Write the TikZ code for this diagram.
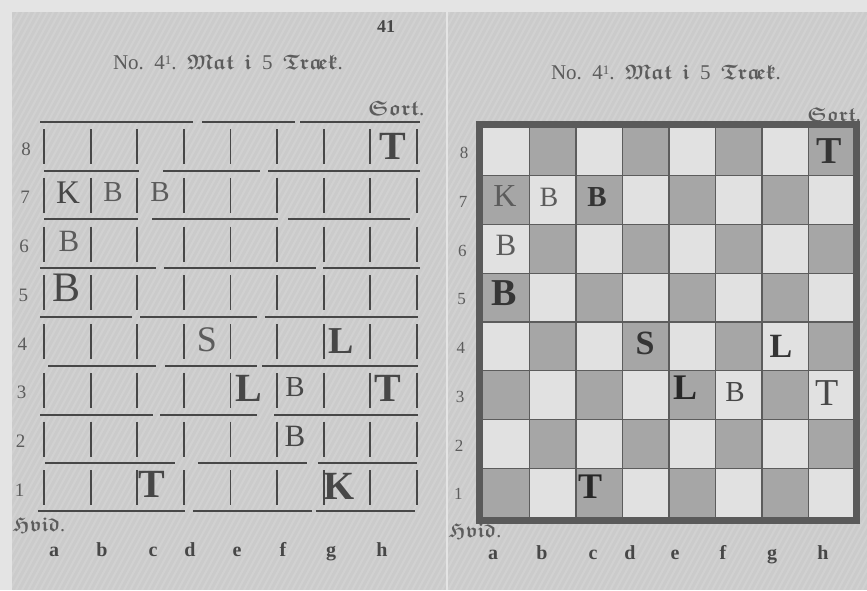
\documentclass[tikz,border=0pt]{standalone}
\usepackage{amssymb}
\usepackage{fontspec}
\setmainfont{Liberation Serif}
\definecolor{pagebg}{HTML}{CBCBCB}
\definecolor{outerbg}{HTML}{E4E4E4}
\definecolor{ink}{HTML}{474747}
\definecolor{softink}{HTML}{5C5C5C}
\definecolor{lightsq}{HTML}{E1E1E1}
\definecolor{darksq}{HTML}{A6A6A6}
\definecolor{framecol}{HTML}{5A5A5A}
\newcommand{\frk}[1]{{\boldmath$\mathfrak{#1}$}}
\newcommand{\fsz}[1]{\fontsize{#1}{#1}\selectfont}
\newcommand{\trak}{{\boldmath$\mathfrak{Tr}\mathfrak{a}\mkern-3mu\mathfrak{e}\mathfrak{k}$}}
\newcommand{\titletext}{No.\ \ 4\raisebox{0.5ex}{\fsz{13}1}.\ \ \frk{Mat}\ \ \frk{i}\ \ 5\ \ \trak.}
\begin{document}
\begin{tikzpicture}[x=1pt,y=-1pt,
  rulestyle/.style={draw=ink, line width=1.8pt},
  barstyle/.style={draw=ink, line width=1.8pt},
  gridstyle/.style={draw=softink, line width=1.4pt},
  piece/.style={text=ink, inner sep=0pt, font=\bfseries\fsz{30}},
  lpiece/.style={text=softink, inner sep=0pt, font=\fsz{26}},
  dpiece/.style={text=ink!75!black, inner sep=0pt, font=\bfseries\fsz{26}},
  ranklbl/.style={text=softink, inner sep=0pt, font=\fsz{19}},
  filelbl/.style={text=ink, inner sep=0pt, font=\bfseries\fsz{20}},
  titlelbl/.style={text=softink, inner sep=0pt, font=\fsz{21}}]
\useasboundingbox (0,0) rectangle (867,590);
\fill[outerbg] (0,0) rectangle (867,590);
\fill[pagebg] (12,12) rectangle (867,590);
% paper texture
\begin{scope}
\clip (12,12) rectangle (867,590);
\foreach \i in {0,6,...,1500} {
  \draw[white, opacity=0.12, line width=2pt] (\i-320,590) -- (\i,0);
}
\end{scope}
% gutter
\draw[outerbg, line width=2.2pt] (447,12) -- (447,590);

% ---------------- left page ----------------
\node[text=ink, inner sep=0pt, font=\bfseries\fsz{18}] (pagenum) at (386,27) {41};
\node[titlelbl] (ltitle) at (228,62) {\titletext};
\node[text=softink, inner sep=0pt, font=\fsz{21}] (lsort) at (396,108) {\frk{Sort}.};
\node[text=softink, inner sep=0pt, font=\fsz{20}] (lhvid) at (39,525) {\frk{Hvid}.};

% horizontal rules (broken type rules)
\foreach \yy/\a/\b/\c/\d/\e/\f in {
  122/40/193/202/295/300/420,
  171/44/139/163/260/268/420,
  219/44/138/152/278/288/410,
  268/40/156/164/316/323/420,
  317/40/132/140/257/265/418,
  366/48/156/165/257/262/418,
  415/40/153/160/257/274/418,
  463/45/175/198/307/318/417,
  511/38/185/193/312/316/415} {
  \draw[rulestyle] (\a,\yy) -- (\b,\yy);
  \draw[rulestyle] (\c,\yy) -- (\d,\yy);
  \draw[rulestyle] (\e,\yy) -- (\f,\yy);
}
% vertical bars
\foreach \r in {0,...,7} {
  \foreach \c in {0,...,8} {
    \draw[barstyle] ({44+\c*46.6},{122+\r*48.75+7}) -- ++(0,35);
  }
}
% rank numbers
\foreach \r/\n in {0/8,1/7,2/6,3/5,4/4,5/3,6/2,7/1} {
  \node[ranklbl] (lrank\n) at ({26-0.9*\r},{149+\r*48.75}) {\n};
}
% file letters
\foreach \x/\f in {54/a,102/b,153/c,190/d,237/e,283/f,331/g,382/h} {
  \node[filelbl, anchor=base] (lfile\f) at (\x,556) {\f};
}
% pieces
\node[piece, font=\bfseries\fsz{40}] (lh8) at (393,146) {T};
\node[piece, font=\fsz{33}] (la7) at (68,193) {K};
\node[lpiece, font=\fsz{29}] (lb7) at (113,192) {B};
\node[lpiece, font=\fsz{29}] (lc7) at (160,192) {B};
\node[lpiece, font=\fsz{31}] (la6) at (69,241) {B};
\node[piece, font=\fsz{42}] (la5) at (67,288) {B};
\node[lpiece, font=\fsz{36}] (ld4) at (207,340) {S};
\node[piece, font=\bfseries\fsz{38}] (lg4) at (341,341) {L};
\node[piece, font=\bfseries\fsz{40}] (le3) at (249,388) {L};
\node[piece, font=\fsz{29}] (lf3) at (295,387) {B};
\node[piece, font=\bfseries\fsz{40}] (lh3) at (388,388) {T};
\node[piece, font=\fsz{31}] (lf2) at (295,436) {B};
\node[piece, font=\bfseries\fsz{40}] (lc1) at (152,484) {T};
\node[piece, font=\bfseries\fsz{40}] (lg1) at (339,486) {K};

% ---------------- right page ----------------
\node[titlelbl] (rtitle) at (666,72) {\titletext};
\node[text=softink, inner sep=0pt, font=\fsz{20}] (rsort) at (834,115) {\frk{Sort}.};
\node[text=softink, inner sep=0pt, font=\fsz{20}] (rhvid) at (475,531) {\frk{Hvid}.};

% squares
\foreach \c in {0,...,7} {
  \foreach \r in {0,...,7} {
    \pgfmathtruncatemacro{\sqpar}{mod(\c+8-\r,2)}
    \ifnum\sqpar=1
      \fill[darksq] ({483+\c*46.5},{127+\r*48.75}) rectangle ++(46.5,48.75);
    \else
      \fill[lightsq] ({483+\c*46.5},{127+\r*48.75}) rectangle ++(46.5,48.75);
    \fi
  }
}
% grid
\foreach \c in {1,...,7} {
  \draw[gridstyle] ({483+\c*46.5},127) -- ({483+\c*46.5},517);
}
\foreach \r in {1,...,7} {
  \draw[gridstyle] (483,{127+\r*48.75}) -- (855,{127+\r*48.75});
}
% frame
\draw[framecol, line width=7pt] (479,124) rectangle (856,520);

% rank numbers
\foreach \r/\n in {0/8,1/7,2/6,3/5,4/4,5/3,6/2,7/1} {
  \node[ranklbl, font=\fsz{17}] (rrank\n) at ({464-0.8*\r},{153+\r*48.75}) {\n};
}
% file letters
\foreach \x/\f in {493/a,542/b,593/c,630/d,675/e,723/f,772/g,823/h} {
  \node[filelbl, anchor=base] (rfile\f) at (\x,559) {\f};
}
% pieces
\node[dpiece, font=\bfseries\fsz{38}] (rh8) at (829,151) {T};
\node[lpiece, font=\fsz{32}] (ra7) at (505,196) {K};
\node[lpiece, font=\fsz{28}] (rb7) at (549,197) {B};
\node[dpiece, font=\bfseries\fsz{29}] (rc7) at (597,197) {B};
\node[lpiece, font=\fsz{31}] (ra6) at (506,245) {B};
\node[dpiece, font=\bfseries\fsz{38}] (ra5) at (504,293) {B};
\node[dpiece, font=\bfseries\fsz{34}] (rd4) at (645,343) {S};
\node[dpiece, font=\bfseries\fsz{34}] (rg4) at (781,346) {L};
\node[dpiece, text=ink!55!black, font=\bfseries\fsz{36}] (re3) at (685,388) {L};
\node[lpiece, text=ink, font=\fsz{29}] (rf3) at (735,392) {B};
\node[lpiece, text=ink, font=\fsz{38}] (rh3) at (827,393) {T};
\node[dpiece, text=ink!55!black, font=\bfseries\fsz{36}] (rc1) at (590,487) {T};
\end{tikzpicture}
\end{document}
